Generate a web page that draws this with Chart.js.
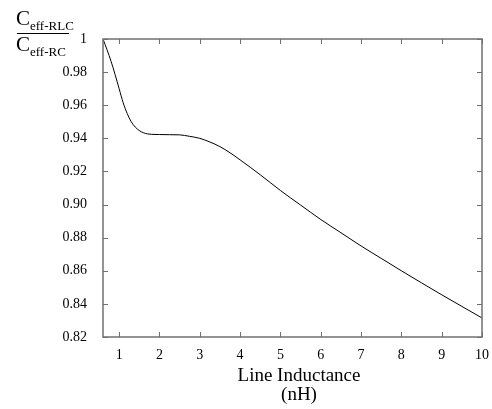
<!DOCTYPE html>
<html>
<head>
<meta charset="utf-8">
<script src="https://cdn.jsdelivr.net/npm/chart.js@4/dist/chart.umd.min.js"></script>
<style>
  html, body { margin: 0; padding: 0; background: #fff; }
  #wrap { width: 492px; height: 409px; }
</style>
</head>
<body>
<div id="wrap"><canvas id="chart" width="492" height="409"></canvas></div>
<script>
// values
var inductance = [0.6, 0.7, 0.8, 0.9, 1.0, 1.1, 1.2, 1.3, 1.4, 1.5, 1.6, 1.7, 1.8, 2.0, 2.25, 2.5, 2.75, 3.0, 3.25, 3.5, 3.75, 4.0, 4.5, 5.0, 5.5, 6.0, 6.5, 7.0, 7.5, 8.0, 8.5, 9.0, 9.5, 10.0];
var ceffRatio = [1.000, 0.9935, 0.9865, 0.9785, 0.9700, 0.9615, 0.9550, 0.9500, 0.9468, 0.9447, 0.9434, 0.9427, 0.9424, 0.9423, 0.9422, 0.9421, 0.9412, 0.9400, 0.9378, 0.9350, 0.9313, 0.9270, 0.9180, 0.9085, 0.8997, 0.8910, 0.8830, 0.8750, 0.8675, 0.8600, 0.8527, 0.8455, 0.8385, 0.8315];
var xTicks = [1, 2, 3, 4, 5, 6, 7, 8, 9, 10];
var yTicks = [0.82, 0.84, 0.86, 0.88, 0.90, 0.92, 0.94, 0.96, 0.98, 1];

var serif = '"Liberation Serif", "DejaVu Serif", serif';

// frame plus inward ticks on all four sides
var framePlugin = {
    id: 'frame',
    afterDraw: function(chart) {
        var ctx = chart.ctx;
        var a = chart.chartArea;
        var xs = chart.scales.x, ys = chart.scales.y;
        var len = 5;
        ctx.save();
        ctx.strokeStyle = '#707070';
        ctx.lineWidth = 1;
        ctx.beginPath();
        xTicks.forEach(function(v) {
            var px = Math.round(xs.getPixelForValue(v)) + 0.5;
            ctx.moveTo(px, a.bottom); ctx.lineTo(px, a.bottom - len);
            ctx.moveTo(px, a.top); ctx.lineTo(px, a.top + len);
        });
        yTicks.forEach(function(v) {
            var py = Math.round(ys.getPixelForValue(v)) + 0.5;
            ctx.moveTo(a.left, py); ctx.lineTo(a.left + len, py);
            ctx.moveTo(a.right, py); ctx.lineTo(a.right - len, py);
        });
        ctx.stroke();
        ctx.lineWidth = 1.5;
        ctx.strokeRect(a.left, a.top, a.right - a.left, a.bottom - a.top);
        ctx.restore();
    }
};

// axis titles: y as a fraction C_eff-RLC / C_eff-RC, x as two centred lines
var titlesPlugin = {
    id: 'titles',
    afterDraw: function(chart) {
        var ctx = chart.ctx;
        ctx.save();
        ctx.fillStyle = '#000';
        ctx.textBaseline = 'alphabetic';
        ctx.textAlign = 'left';
        ctx.font = '21px ' + serif;
        ctx.fillText('C', 16, 25);
        ctx.fillText('C', 16, 51);
        ctx.font = '13px ' + serif;
        ctx.fillText('eff-RLC', 30, 30);
        ctx.fillText('eff-RC', 30, 56);
        ctx.strokeStyle = '#000';
        ctx.lineWidth = 1;
        ctx.beginPath();
        ctx.moveTo(17, 33.5);
        ctx.lineTo(69, 33.5);
        ctx.stroke();

        ctx.textAlign = 'center';
        ctx.font = '19px ' + serif;
        ctx.fillText('Line Inductance', 299, 381);
        ctx.fillText('(nH)', 299, 400);
        ctx.restore();
    }
};

var ctx = document.getElementById('chart').getContext('2d');
var chart = new Chart(ctx, {
    type: 'line',
    data: {
        datasets: [{
            data: inductance.map(function(x, i) { return {x: x, y: ceffRatio[i]}; }),
            borderColor: '#000',
            borderWidth: 1,
            pointRadius: 0,
            fill: false,
            cubicInterpolationMode: 'monotone'
        }]
    },
    options: {
        responsive: false,
        animation: false,
        layout: { padding: { top: 39, right: 10, left: 0, bottom: 0 } },
        plugins: { legend: { display: false }, tooltip: { enabled: false } },
        scales: {
            x: {
                type: 'linear',
                min: 0.6,
                max: 10,
                afterBuildTicks: function(scale) {
                    scale.ticks = xTicks.map(function(v) { return {value: v}; });
                },
                afterFit: function(scale) { scale.height = 72; },
                grid: { display: false },
                border: { display: false },
                ticks: {
                    color: '#000',
                    font: { family: serif, size: 14 },
                    padding: 2,
                    maxRotation: 0,
                    callback: function(v) { return String(v); }
                }
            },
            y: {
                type: 'linear',
                min: 0.82,
                max: 1,
                afterBuildTicks: function(scale) {
                    scale.ticks = yTicks.map(function(v) { return {value: v}; });
                },
                afterFit: function(scale) { scale.width = 103; },
                grid: { display: false },
                border: { display: false },
                ticks: {
                    color: '#000',
                    font: { family: serif, size: 14 },
                    padding: 8,
                    callback: function(v) { return v === 1 ? '1' : v.toFixed(2); }
                }
            }
        }
    },
    plugins: [framePlugin, titlesPlugin]
});
</script>
</body>
</html>
